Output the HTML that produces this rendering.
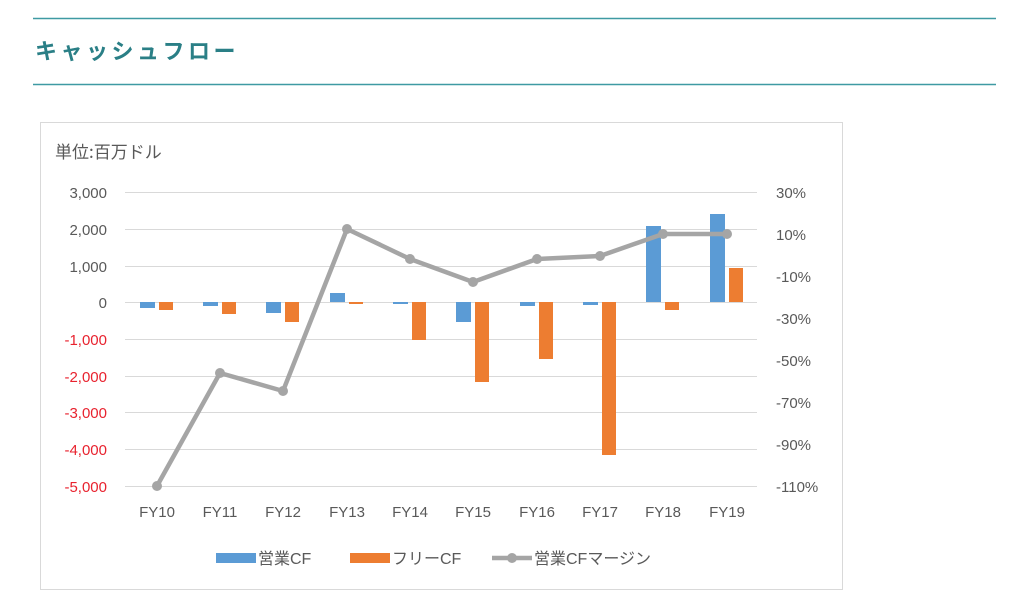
<!DOCTYPE html>
<html><head><meta charset="utf-8"><style>
html,body{margin:0;padding:0;background:#fff;width:1024px;height:616px;overflow:hidden}
svg text{font-family:"Liberation Sans","Noto Sans CJK JP",sans-serif}
</style></head><body>
<svg width="1024" height="616" viewBox="0 0 1024 616" xmlns="http://www.w3.org/2000/svg">
<line x1="33" y1="18.5" x2="996" y2="18.5" stroke="#3f9aa3" stroke-width="1.5"/>
<line x1="33" y1="84.5" x2="996" y2="84.5" stroke="#3f9aa3" stroke-width="1.5"/>
<text x="35" y="59" font-size="22" font-weight="bold" fill="#2a7f86" letter-spacing="3.5" style="font-family:'Noto Sans CJK JP',sans-serif">キャッシュフロー</text>
<rect x="40.5" y="122.5" width="802" height="467" fill="#fff" stroke="#d9d9d9"/>
<text x="55" y="158" font-size="17" fill="#595959" style="font-family:'Noto Sans CJK JP',sans-serif">単位:百万ドル</text>
<g stroke="#d9d9d9" stroke-width="1">
<line x1="125" x2="757" y1="192.5" y2="192.5"/><line x1="125" x2="757" y1="229.5" y2="229.5"/>
<line x1="125" x2="757" y1="266.5" y2="266.5"/><line x1="125" x2="757" y1="302.5" y2="302.5"/>
<line x1="125" x2="757" y1="339.5" y2="339.5"/><line x1="125" x2="757" y1="376.5" y2="376.5"/>
<line x1="125" x2="757" y1="412.5" y2="412.5"/><line x1="125" x2="757" y1="449.5" y2="449.5"/>
<line x1="125" x2="757" y1="486.5" y2="486.5"/>
</g>
<g font-size="15" text-anchor="end">
<text x="107" y="198" fill="#595959">3,000</text>
<text x="107" y="235" fill="#595959">2,000</text>
<text x="107" y="272" fill="#595959">1,000</text>
<text x="107" y="308" fill="#595959">0</text>
<text x="107" y="345" fill="#e8222e">-1,000</text>
<text x="107" y="382" fill="#e8222e">-2,000</text>
<text x="107" y="418" fill="#e8222e">-3,000</text>
<text x="107" y="455" fill="#e8222e">-4,000</text>
<text x="107" y="492" fill="#e8222e">-5,000</text>
</g>
<g font-size="15" fill="#595959">
<text x="776" y="198">30%</text><text x="776" y="240">10%</text><text x="776" y="282">-10%</text>
<text x="776" y="324">-30%</text><text x="776" y="366">-50%</text><text x="776" y="408">-70%</text>
<text x="776" y="450">-90%</text><text x="776" y="492">-110%</text>
</g>
<g font-size="15" fill="#595959" text-anchor="middle">
<text x="157" y="517">FY10</text><text x="220" y="517">FY11</text><text x="283" y="517">FY12</text>
<text x="347" y="517">FY13</text><text x="410" y="517">FY14</text><text x="473" y="517">FY15</text>
<text x="537" y="517">FY16</text><text x="600" y="517">FY17</text><text x="663" y="517">FY18</text>
<text x="727" y="517">FY19</text>
</g>
<g fill="#5b9bd5">
<rect x="140" y="302" width="15" height="6"/>
<rect x="203" y="302" width="15" height="4"/>
<rect x="266" y="302" width="15" height="11"/>
<rect x="330" y="293" width="15" height="9"/>
<rect x="393" y="302" width="15" height="2"/>
<rect x="456" y="302" width="15" height="20"/>
<rect x="520" y="302" width="15" height="4"/>
<rect x="583" y="302" width="15" height="3"/>
<rect x="646" y="226" width="15" height="76"/>
<rect x="710" y="214" width="15" height="88"/>
</g>
<g fill="#ed7d31">
<rect x="159" y="302" width="14" height="8"/>
<rect x="222" y="302" width="14" height="12"/>
<rect x="285" y="302" width="14" height="20"/>
<rect x="349" y="302" width="14" height="2"/>
<rect x="412" y="302" width="14" height="38"/>
<rect x="475" y="302" width="14" height="80"/>
<rect x="539" y="302" width="14" height="57"/>
<rect x="602" y="302" width="14" height="153"/>
<rect x="665" y="302" width="14" height="8"/>
<rect x="729" y="268" width="14" height="34"/>
</g>
<polyline fill="none" stroke="#a5a5a5" stroke-width="4.5" stroke-linejoin="round" points="157,486 220,373 283,391 347,229 410,259 473,282 537,259 600,256 663,234 727,234"/>
<g fill="#a5a5a5">
<circle cx="157" cy="486" r="5"/><circle cx="220" cy="373" r="5"/><circle cx="283" cy="391" r="5"/>
<circle cx="347" cy="229" r="5"/><circle cx="410" cy="259" r="5"/><circle cx="473" cy="282" r="5"/>
<circle cx="537" cy="259" r="5"/><circle cx="600" cy="256" r="5"/><circle cx="663" cy="234" r="5"/>
<circle cx="727" cy="234" r="5"/>
</g>
<rect x="216" y="553" width="40" height="10" fill="#5b9bd5"/>
<text x="258" y="564" font-size="16" fill="#595959">営業CF</text>
<rect x="350" y="553" width="40" height="10" fill="#ed7d31"/>
<text x="392" y="564" font-size="16" fill="#595959">フリーCF</text>
<line x1="492" y1="558" x2="532" y2="558" stroke="#a5a5a5" stroke-width="4.5"/>
<circle cx="512" cy="558" r="5" fill="#a5a5a5"/>
<text x="534" y="564" font-size="16" fill="#595959">営業CFマージン</text>
</svg>
</body></html>
